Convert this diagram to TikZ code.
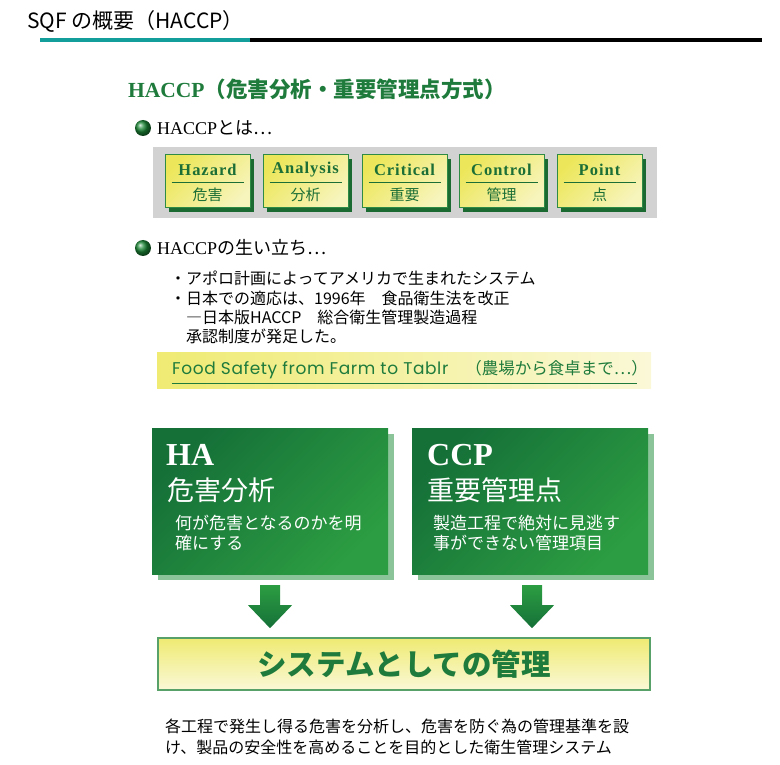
\documentclass[tikz,border=0pt]{standalone}
\usepackage{fontspec}
\setmainfont{Noto Sans CJK JP}
\newfontfamily\serifL{Liberation Serif}
\newfontfamily\serifS[LetterSpace=6]{Liberation Serif}
\newfontfamily\geo[LetterSpace=3.5]{Poppins}
\usetikzlibrary{shadows,calc}
\definecolor{tealline}{HTML}{149E9B}
\definecolor{hgreen}{HTML}{1E7B3C}
\definecolor{tgreen}{HTML}{1B6E36}
\definecolor{bordergreen}{HTML}{2E8B45}
\definecolor{darkshadow}{HTML}{1A6A32}
\definecolor{lightshadow}{HTML}{8CC49A}
\definecolor{ydark}{HTML}{ECE75A}
\definecolor{ylight}{HTML}{F7F4BC}
\definecolor{gdark}{HTML}{157038}
\definecolor{glight}{HTML}{2C9D42}
\definecolor{greybg}{HTML}{D2D2D2}
\tikzset{
  ybox/.style={draw=bordergreen, line width=1pt, minimum width=85pt, minimum height=53pt, inner sep=0pt,
    top color=ydark, bottom color=ylight, shading angle=45,
    drop shadow={shadow xshift=4pt, shadow yshift=-4pt, fill=darkshadow, opacity=1}},
  gbox/.style={minimum width=236pt, minimum height=146pt, inner sep=0pt,
    top color=gdark, bottom color=glight, shading angle=45,
    drop shadow={shadow xshift=6pt, shadow yshift=-6pt, fill=lightshadow, opacity=1}},
  txt/.style={inner sep=0pt, anchor=west},
  arrowshade/.style={top color=glight, bottom color=gdark},
  bulletdot/.style={ball color=hgreen!90!green},
}
\begin{document}
\begin{tikzpicture}[x=1pt,y=-1pt]
\useasboundingbox (0,0) rectangle (780,765);
% title
\node[txt, font=\fontsize{21}{24}\selectfont] (title) at (27,21) {SQF の概要（HACCP）};
\coordinate (l1) at (40,40);
\coordinate (l2) at (250,40);
\coordinate (l3) at (762,40);
\draw[tealline, line width=4pt] (l1) -- (l2);
\draw[black, line width=4pt] (l2) -- (l3);
% heading
\node[txt, text=hgreen, font=\fontsize{21.5}{24}\selectfont\bfseries] (head) at (128,89) {{\serifL HACCP}（危害分析・重要管理点方式）};
% bullet 1
\shade[bulletdot] (143,128) circle (8);
\node[txt, font=\fontsize{18}{20}\selectfont] (b1) at (157,128) {{\serifL HACCP}とは…};
% grey strip
\node[fill=greybg, minimum width=504pt, minimum height=71pt, inner sep=0pt] (grey) at (405,182.5) {};
\foreach \n/\cx/\en/\ja in {hz/207.5/Hazard/危害, an/305.5/Analysis/分析, cr/404.5/Critical/重要, co/501.5/Control/管理, po/599.5/Point/点}{
  \node[ybox] (\n) at (\cx,181.5) {};
  \node[text=tgreen, font=\serifS\fontsize{16.5}{18}\selectfont\bfseries, inner sep=0pt] (\n-en) at ($(\n.center)+(0,-12)$) {\en};
  \draw[tgreen, line width=1pt] ($(\n.center)+(-36,1)$) -- ($(\n.center)+(36,1)$);
  \node[text=tgreen, font=\fontsize{15}{16}\selectfont, inner sep=0pt] (\n-ja) at ($(\n.center)+(0,13)$) {\ja};
}
% bullet 2
\shade[bulletdot] (143,248) circle (8);
\node[txt, font=\fontsize{18}{20}\selectfont] (b2) at (157,248) {{\serifL HACCP}の生い立ち…};
\node[txt, font=\fontsize{16}{18}\selectfont] (t1) at (170,278) {・アポロ計画によってアメリカで生まれたシステム};
\node[txt, font=\fontsize{16}{18}\selectfont] (t2) at (170,298) {・日本での適応は、1996年　食品衛生法を改正};
\node[txt, font=\fontsize{16}{18}\selectfont] (t3) at (186,317) {―日本版HACCP　総合衛生管理製造過程};
\node[txt, font=\fontsize{16}{18}\selectfont] (t4) at (186,336) {承認制度が発足した。};
% band
\node[minimum width=494pt, minimum height=36pt, inner sep=0pt, left color=ydark!85!white, right color=ylight!60!white] (band) at (404,370) {};
\node[txt, text=hgreen, font=\fontsize{17}{18}\selectfont] (food) at (172,370) {{\geo Food Safety from Farm to Tablr}　{\fontsize{16.5}{18}\selectfont（農場から食卓まで…）}};
\draw[hgreen, line width=1pt] ($(band.west)+(15,13)$) -- ($(band.east)+(-14,13)$);
% big green boxes
\node[gbox] (ha) at (270,501) {};
\node[gbox] (ccp) at (530,501) {};
\node[txt, text=white, font=\serifL\fontsize{32}{34}\selectfont\bfseries] (haT) at (166,455) {HA};
\node[txt, text=white, font=\fontsize{27}{30}\selectfont] (haJ) at (167,490) {危害分析};
\node[txt, text=white, font=\fontsize{17}{20}\selectfont, align=left] (haD) at (175,533) {何が危害となるのかを明\\確にする};
\node[txt, text=white, font=\serifL\fontsize{32}{34}\selectfont\bfseries] (ccpT) at (427,455) {CCP};
\node[txt, text=white, font=\fontsize{27}{30}\selectfont] (ccpJ) at (427,490) {重要管理点};
\node[txt, text=white, font=\fontsize{17}{20}\selectfont, align=left] (ccpD) at (433,533) {製造工程で絶対に見逃す\\事ができない管理項目};
% system box
\node[draw=bordergreen!80!white, line width=1.5pt, minimum width=492pt, minimum height=52pt, inner sep=0pt,
  top color=ydark!85!white, bottom color=ylight!60!white] (sys) at (404,664) {};
\node[text=hgreen, font=\fontsize{29.5}{32}\selectfont\bfseries, inner sep=0pt] (sysT) at (sys.center) {システムとしての管理};
% arrows
\shade[arrowshade] ($(ha.south)+(-10,11)$) -- ++(20,0) -- ++(0,20) -- ++(12,0) -- ++(-22,23) -- ++(-22,-23) -- ++(12,0) -- cycle;
\shade[arrowshade] ($(ccp.south)+(-8,11)$) -- ++(20,0) -- ++(0,20) -- ++(12,0) -- ++(-22,23) -- ++(-22,-23) -- ++(12,0) -- cycle;
% bottom text
\node[txt, font=\fontsize{16}{21}\selectfont, align=left] (bottom) at (165,737) {各工程で発生し得る危害を分析し、危害を防ぐ為の管理基準を設\\け、製品の安全性を高めることを目的とした衛生管理システム};
\end{tikzpicture}
\end{document}
